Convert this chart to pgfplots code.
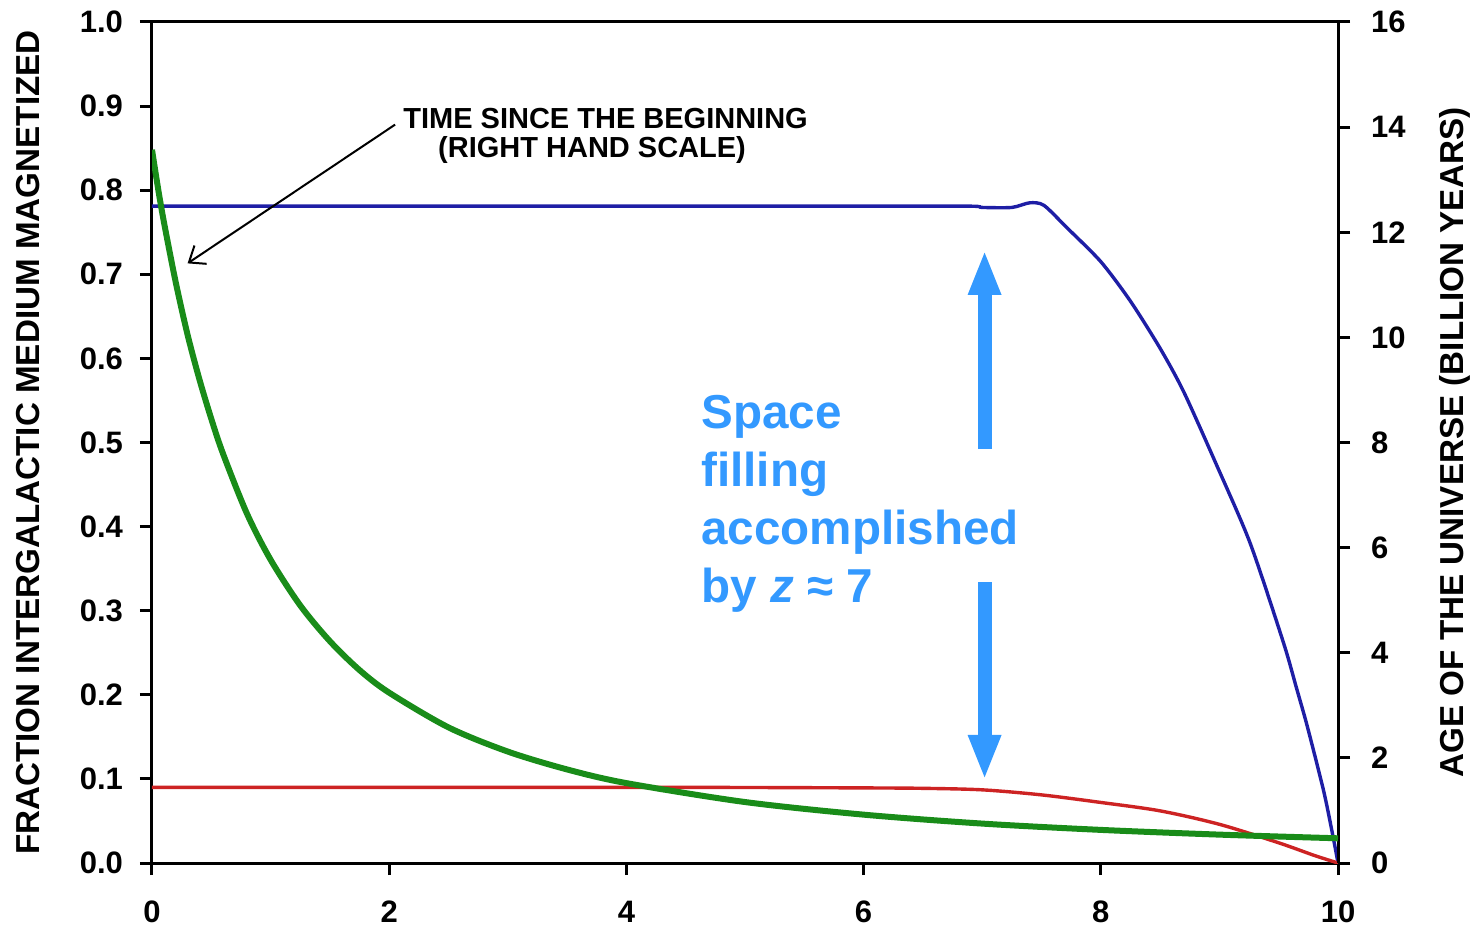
\documentclass[border=0pt]{standalone}
\usepackage{pgfplots}
\pgfplotsset{compat=1.18}
\usepackage{fontspec}
\setmainfont{Liberation Sans}
\usetikzlibrary{arrows.meta}

\definecolor{magblue}{RGB}{30,30,165}
\definecolor{magred}{RGB}{205,35,35}
\definecolor{agegreen}{RGB}{25,140,25}
\definecolor{noteblue}{RGB}{51,153,255}

\begin{document}
\begin{tikzpicture}
\useasboundingbox (-76pt,-32pt) rectangle (664.5pt,431.5pt);
\pgfplotsset{
  common/.style={
    scale only axis, width=593pt, height=420.5pt,
    xmin=0, xmax=10,
    axis line style={line width=1.5pt},
    major tick style={line width=1.5pt, black},
    major tick length=6pt,
    tick align=outside,
    ticklabel style={font=\bfseries\fontsize{15.5}{15.5}\selectfont},
    /pgf/number format/assume math mode=true,
    label style={font=\bfseries\fontsize{16.6}{16.6}\selectfont},
  }
}
% fraction of the intergalactic medium that is magnetized (left scale)
\begin{axis}[common,
  ymin=0, ymax=1,
  xtick={0,2,4,6,8,10},
  ytick={0,0.1,0.2,0.3,0.4,0.5,0.6,0.7,0.8,0.9,1},
  xtick pos=bottom, ytick pos=left,
  yticklabel style={xshift=-5pt, /pgf/number format/.cd, fixed, fixed zerofill, precision=1},
  xticklabel style={yshift=-9.5pt},
  ylabel={FRACTION INTERGALACTIC MEDIUM MAGNETIZED},
  ylabel style={at={(axis description cs:-0.1046,0.5)}, anchor=center},
]
\addplot[magblue, line width=1.7pt, smooth, tension=0.45] coordinates {
  (0,0.781) (2,0.781) (4,0.781) (6,0.781) (6.9,0.781) (7.0,0.7795)
  (7.25,0.7795) (7.4,0.785) (7.52,0.782) (7.71,0.756) (8.0,0.715)
  (8.25,0.668) (8.5,0.612) (8.7,0.560) (8.98,0.472) (9.26,0.380)
  (9.54,0.262) (9.65,0.208) (9.74,0.163) (9.88,0.085) (9.96,0.030) (10,0)
};
\addplot[magred, line width=1.7pt, smooth] coordinates {
  (0,0.090) (2,0.090) (4,0.090) (5,0.0898) (6,0.0893) (6.5,0.0888)
  (7.0,0.087) (7.5,0.081) (8.0,0.072) (8.5,0.062) (9.0,0.046)
  (9.5,0.024) (9.8,0.009) (10,0)
};
\node[anchor=west, inner sep=0pt, font=\bfseries\fontsize{14.5}{14.5}\selectfont]
  at (axis cs:2.116,0.885) {TIME SINCE THE BEGINNING};
\node[anchor=west, inner sep=0pt, font=\bfseries\fontsize{14.5}{14.5}\selectfont]
  at (axis cs:2.41,0.848) {(RIGHT HAND SCALE)};
\draw[-{Straight Barb[length=7pt,width=11pt]}, line width=1pt]
  (axis cs:2.05,0.878) -- (axis cs:0.30,0.713);
\node[anchor=north west, inner sep=0pt, align=left, text=noteblue,
  font=\bfseries\fontsize{23.8}{29}\selectfont]
  at (axis cs:4.629,0.5565) {Space\\filling\\accomplished\\by {\itshape z} ≈ 7};
\draw[-{Triangle[width=15pt,length=22.5pt]}, line width=7pt, noteblue]
  (axis cs:7.02,0.492) -- (axis cs:7.02,0.729);
\draw[-{Triangle[width=15pt,length=22.5pt]}, line width=7pt, noteblue]
  (axis cs:7.02,0.334) -- (axis cs:7.02,0.0987);
\end{axis}
% age of the universe (right scale)
\begin{axis}[common,
  ymin=0, ymax=16,
  ytick={0,2,4,6,8,10,12,14,16},
  axis x line=none, axis y line*=right,
  yticklabel style={xshift=7pt},
  ylabel={AGE OF THE UNIVERSE (BILLION YEARS)},
  ylabel style={at={(axis description cs:1.0987,0.5)}, anchor=center},
]
\addplot[agegreen, line width=3pt, smooth] coordinates {
  (0,13.57) (0.05,12.85) (0.1,12.2) (0.2,11.05) (0.3,10.05) (0.4,9.2)
  (0.5,8.45) (0.6,7.78) (0.8,6.65) (1.0,5.77) (1.25,4.9) (1.5,4.22)
  (1.75,3.67) (2.0,3.24) (2.5,2.58) (3.0,2.12) (3.5,1.78) (4.0,1.52)
  (5.0,1.16) (6.0,0.92) (7.0,0.75) (8.0,0.63) (9.0,0.54) (10.0,0.47)
};
\end{axis}
\end{tikzpicture}
\end{document}
